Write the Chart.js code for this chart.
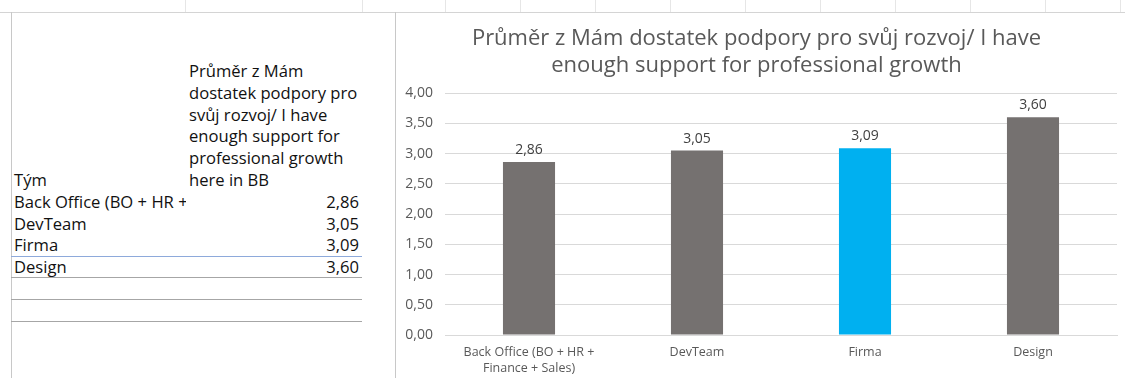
<!DOCTYPE html>
<html>
<head>
<meta charset="utf-8">
<script src="https://cdn.jsdelivr.net/npm/chart.js@4/dist/chart.umd.min.js"></script>
<style>
  html, body { margin: 0; padding: 0; background: #fff; }
  body { width: 1125px; height: 378px; position: relative; overflow: hidden; font-family: "Open Sans", Lato, sans-serif; color: #111; }
  .hl { position: absolute; height: 1px; background: #d4d4d4; }
  .vl { position: absolute; width: 1px; background: #d4d4d4; }
  .t { position: absolute; font-size: 16.6px; line-height: 21.8px; white-space: nowrap; }
  #chartBox { position: absolute; left: 396px; top: 13px; width: 729px; height: 365px; }
</style>
</head>
<body>
<div class="hl" style="left:0;top:12px;width:1125px;"></div>
<div class="vl" style="left:11px;top:12px;height:366px;background:#c8c8c8;"></div>
<div class="vl" style="left:395px;top:12px;height:366px;background:#c8c8c8;"></div>
<div id="ticks"></div>
<div id="table"></div>
<div id="chartBox"><canvas id="c"></canvas></div>
<script>
// ---- data ----
const categories = ["Back Office (BO + HR + Finance + Sales)", "DevTeam", "Firma", "Design"];
const xTickLabels = [["Back Office (BO + HR +", "Finance + Sales)"], "DevTeam", "Firma", "Design"];
const tableRowLabels = ["Back Office (BO + HR +", "DevTeam", "Firma", "Design"];
const values = [2.86, 3.05, 3.09, 3.60];
const highlightCategory = "Firma";
const titleLines = ["Průměr z Mám dostatek podpory pro svůj rozvoj/ I have", "enough support for professional growth"];
const tableHeaderRow = "Tým";
const tableHeaderCol = ["Průměr z Mám", "dostatek podpory pro", "svůj rozvoj/ I have", "enough support for", "professional growth", "here in BB"];
const yTicks = [0, 0.5, 1, 1.5, 2, 2.5, 3, 3.5, 4];

const fmt = v => v.toFixed(2).replace('.', ',');

// ---- spreadsheet column ticks above ----
const tickXs = [185, 362, 445, 520, 595, 670, 745, 820, 895, 970, 1045, 1120];
let th = '';
tickXs.forEach(x => { th += `<div class="vl" style="left:${x}px;top:0;height:12px;background:#e6e6e6;"></div>`; });
document.getElementById('ticks').innerHTML = th;

// ---- table ----
let h = '';
tableHeaderCol.forEach((s, i) => {
  h += `<div class="t" style="left:189px;top:${60 + i * 21.8}px;">${s}</div>`;
});
h += `<div class="t" style="left:14px;top:${60 + 5 * 21.8}px;">${tableHeaderRow}</div>`;
tableRowLabels.forEach((s, i) => {
  const top = 60 + (6 + i) * 21.8;
  h += `<div class="t" style="left:14px;top:${top}px;width:172px;overflow:hidden;">${s}</div>`;
  h += `<div class="t" style="left:190px;top:${top}px;width:169px;text-align:right;">${fmt(values[i])}</div>`;
});
h += `<div class="hl" style="left:11px;top:256px;width:351px;background:#8eaadb;"></div>`;
h += `<div class="hl" style="left:11px;top:277px;width:351px;background:#a6a6a6;"></div>`;
h += `<div class="hl" style="left:11px;top:299px;width:351px;background:#a6a6a6;"></div>`;
h += `<div class="hl" style="left:11px;top:321px;width:351px;background:#a6a6a6;"></div>`;
document.getElementById('table').innerHTML = h;

// ---- chart ----
const labelPlugin = {
  id: 'valueLabels',
  afterDatasetsDraw(chart) {
    const ctx = chart.ctx;
    const meta = chart.getDatasetMeta(0);
    ctx.save();
    ctx.font = '14px "Open Sans", Lato, sans-serif';
    ctx.fillStyle = '#404040';
    ctx.textAlign = 'center';
    ctx.textBaseline = 'middle';
    meta.data.forEach((bar, i) => {
      ctx.fillText(fmt(values[i]), bar.x, bar.y - 12);
    });
    ctx.restore();
  }
};

new Chart(document.getElementById('c'), {
  type: 'bar',
  data: {
    labels: xTickLabels,
    datasets: [{
      data: values,
      backgroundColor: categories.map(c => c === highlightCategory ? '#00b0f0' : '#757170'),
      barPercentage: 1,
      categoryPercentage: 0.31
    }]
  },
  options: {
    responsive: true,
    maintainAspectRatio: false,
    animation: false,
    layout: { padding: { left: 0, right: 8, top: 0, bottom: 0 } },
    plugins: {
      legend: { display: false },
      tooltip: { enabled: false },
      title: {
        display: true,
        text: titleLines,
        color: '#595959',
        font: { family: '"Open Sans", Lato, sans-serif', size: 22, weight: 'normal', lineHeight: 1.23 },
        padding: { top: 12, bottom: 14 }
      }
    },
    scales: {
      x: {
        grid: { display: false, drawTicks: false },
        border: { color: '#d9d9d9' },
        ticks: { color: '#595959', font: { family: '"Open Sans", Lato, sans-serif', size: 12.5, lineHeight: 1.25 }, padding: 10, maxRotation: 0, autoSkip: false },
        afterFit(s) { s.height = 43; }
      },
      y: {
        min: 0, max: 4,
        afterBuildTicks(s) { s.ticks = yTicks.map(v => ({ value: v })); },
        grid: { color: '#d9d9d9', drawTicks: false },
        border: { display: false },
        ticks: { color: '#595959', font: { family: '"Open Sans", Lato, sans-serif', size: 14 }, padding: 12, callback: v => fmt(v) },
        afterFit(s) { s.width = 49; }
      }
    }
  },
  plugins: [labelPlugin]
});
</script>
</body>
</html>
